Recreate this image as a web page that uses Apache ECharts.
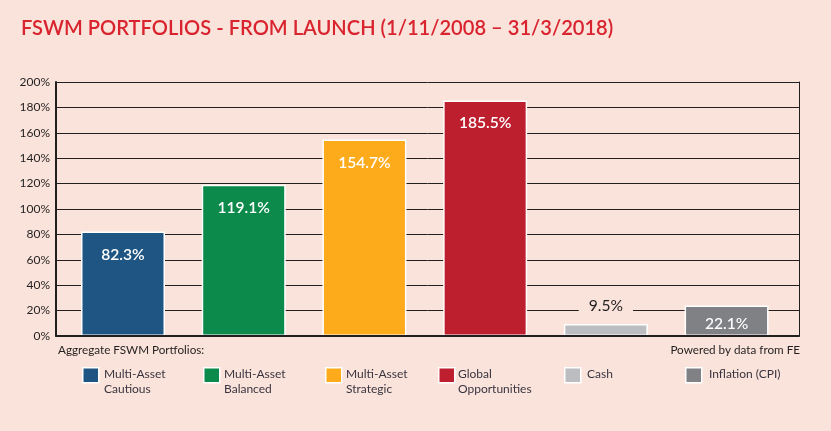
<!DOCTYPE html>
<html><head><meta charset="utf-8">
<style>html,body{margin:0;padding:0;background:#f9e3da}#c{width:831px;height:431px}</style>
<script src="https://cdn.jsdelivr.net/npm/echarts@6/dist/echarts.min.js"></script>
</head><body><div id="c"></div>
<script>
const titleText = 'FSWM PORTFOLIOS - FROM LAUNCH (1/11/2008 – 31/3/2018)';
const names = ['Multi-Asset\nCautious','Multi-Asset\nBalanced','Multi-Asset\nStrategic','Global\nOpportunities','Cash','Inflation (CPI)'];
const values = [82.3,119.1,154.7,185.5,9.5,24];
const labels = ['82.3%','119.1%','154.7%','185.5%','9.5%','22.1%'];
const colors = ['#1f5582','#0b8a4b','#fdaa1b','#bd1f2e','#bcbdc0','#808184'];
const legendX = [82,203,325,438,564,685];
const legendTextX = [104,224,346,458,587,709];
const bg = '#f9e3da', ink = '#231f20', font = 'Lato';

const chart = echarts.init(document.getElementById('c'), null, {renderer:'canvas'});
const gfx = [];
names.forEach((n,i)=>{
  gfx.push({type:'rect',left:legendX[i],top:367,shape:{width:16,height:15},
    style:{fill:colors[i],stroke:'#fff',lineWidth:1.5}});
  gfx.push({type:'text',left:legendTextX[i],top:367,
    style:{text:n,font:'12px '+font,fill:'#3a3440',lineHeight:15}});
});
gfx.push({type:'text',left:58,top:344,style:{text:'Aggregate FSWM Portfolios:',font:'11.7px '+font,fill:ink}});
gfx.push({type:'text',right:31,top:344,style:{text:'Powered by data from FE',font:'11.7px '+font,fill:ink}});

chart.setOption({
  animation:false,
  backgroundColor:bg,
  title:{text:titleText,left:16,top:14,textStyle:{fontFamily:font,fontSize:20.1,fontWeight:600,color:'#d9232e'}},
  grid:{left:56,right:32,top:82,bottom:95},
  xAxis:{type:'value',min:-0.555,max:5.6,z:5,splitLine:{show:false},axisTick:{show:false},axisLabel:{show:false},
    axisLine:{show:true,onZero:false,lineStyle:{color:ink,width:2}}},
  yAxis:[{type:'value',min:0,max:200,interval:20,
    axisLabel:{formatter:'{value}%',fontFamily:font,fontSize:12,color:ink,margin:6},
    axisTick:{show:false},axisLine:{show:true,onZero:false,lineStyle:{color:ink,width:2}},
    splitLine:{show:true,lineStyle:{color:ink,width:1}}},
   {type:'value',min:0,max:200,interval:200,position:'right',axisLabel:{show:false},axisTick:{show:false},
    splitLine:{show:false},axisLine:{show:true,onZero:false,lineStyle:{color:ink,width:1}}}],
  series:[{type:'bar',barWidth:84,
    data:values.map((v,i)=>({
      value:[i,v],
      itemStyle:{color:colors[i],borderColor:'#fff',borderWidth:1.5},
      label: i===4
        ? {show:true,position:'top',distance:10,color:ink,fontSize:15.6,backgroundColor:bg,padding:[0,10]}
        : {show:true,position:'insideTop',distance:i===5?10:15,color:'#fff',fontSize:15.6,fontWeight:i===5?500:600}
    })),
    label:{fontFamily:font,formatter:p=>labels[p.dataIndex]}
  }],
  graphic:gfx
});
</script></body></html>
